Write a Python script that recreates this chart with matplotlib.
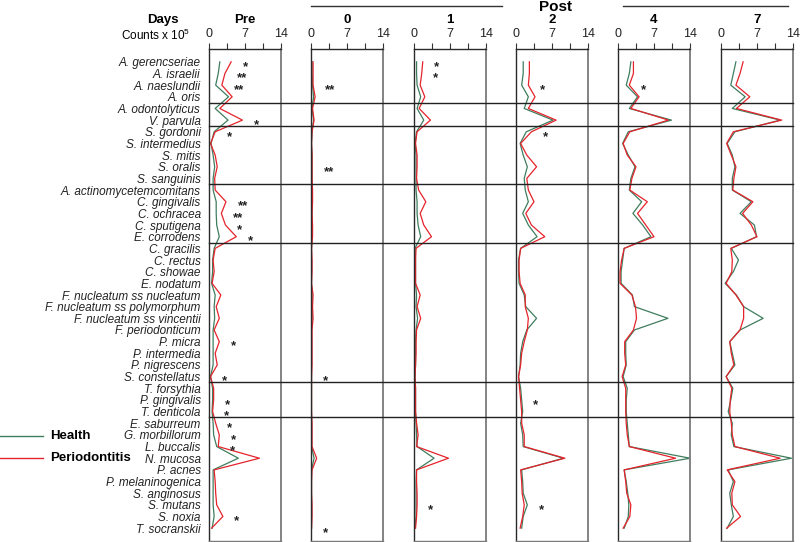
import matplotlib
matplotlib.use("Agg")
import matplotlib.pyplot as plt
import numpy as np
from matplotlib.lines import Line2D
from matplotlib.transforms import blended_transform_factory

plt.rcParams["font.family"] = ["Liberation Sans", "DejaVu Sans"]
plt.rcParams["mathtext.fontset"] = "custom"
plt.rcParams["mathtext.rm"] = "Liberation Sans"

species = [
    "A. gerencseriae", "A. israelii", "A. naeslundii", "A. oris",
    "A. odontolyticus", "V. parvula",
    "S. gordonii", "S. intermedius", "S. mitis", "S. oralis", "S. sanguinis",
    "A. actinomycetemcomitans", "C. gingivalis", "C. ochracea", "C. sputigena", "E. corrodens",
    "C. gracilis", "C. rectus", "C. showae", "E. nodatum",
    "F. nucleatum ss nucleatum", "F. nucleatum ss polymorphum", "F. nucleatum ss vincentii",
    "F. periodonticum", "P. micra", "P. intermedia", "P. nigrescens", "S. constellatus",
    "T. forsythia", "P. gingivalis", "T. denticola",
    "E. saburreum", "G. morbillorum", "L. buccalis", "N. mucosa", "P. acnes",
    "P. melaninogenica", "S. anginosus", "S. mutans", "S. noxia", "T. socranskii",
]
group_sizes = [4, 2, 5, 5, 12, 3, 10]
days = ["Pre", "0", "1", "2", "4", "7"]

health = {
    "Pre": [2.1, 1.8, 1.3, 3.8, 1.2, 3.7, 1.0, 0.4, 0.8, 1.1, 0.8, 0.8, 1.4, 1.4, 1.5, 2.0, 1.0, 0.7, 0.7, 0.5,
            1.2, 1.0, 1.1, 0.8, 0.8, 0.8, 0.8, 0.3, 0.7, 0.7, 0.6, 0.8, 0.9, 1.5, 5.7, 0.8, 0.8, 0.8, 0.8, 1.0, 0.6],
    "0": [0.2, 0.2, 0.3, 0.5, 0.2, 0.5, 0.2, 0.1, 0.2, 0.2, 0.2, 0.2, 0.2, 0.2, 0.2, 0.2, 0.1, 0.1, 0.1, 0.1,
          0.2, 0.2, 0.2, 0.1, 0.1, 0.1, 0.1, 0.1, 0.1, 0.1, 0.1, 0.1, 0.1, 0.1, 0.6, 0.1, 0.1, 0.1, 0.1, 0.1, 0.1],
    "1": [0.5, 0.5, 0.6, 1.3, 0.6, 1.9, 0.5, 0.2, 0.4, 0.4, 0.4, 0.4, 0.6, 0.6, 0.8, 1.3, 0.2, 0.3, 0.3, 0.3,
          0.5, 0.4, 0.7, 0.4, 0.3, 0.3, 0.3, 0.2, 0.3, 0.3, 0.3, 0.4, 0.5, 0.6, 3.9, 0.5, 0.4, 0.4, 0.4, 0.4, 0.2],
    "2": [1.4, 1.4, 1.1, 2.4, 1.6, 7.2, 2.0, 0.8, 1.4, 2.2, 1.6, 1.8, 2.4, 1.3, 2.4, 4.1, 0.9, 0.5, 0.5, 0.6,
          1.6, 1.9, 4.0, 2.1, 1.3, 0.9, 0.8, 0.5, 0.9, 1.1, 1.3, 0.9, 1.3, 1.4, 9.2, 1.1, 1.3, 1.4, 2.2, 1.4, 1.1],
    "4": [2.5, 2.2, 1.6, 3.8, 2.2, 10.4, 2.0, 0.9, 2.0, 3.3, 2.5, 2.2, 4.6, 2.9, 4.8, 6.4, 1.2, 0.9, 0.6, 0.6,
          2.8, 3.2, 9.7, 3.2, 1.5, 1.5, 1.6, 1.0, 1.8, 1.6, 1.6, 1.8, 2.0, 2.2, 14.0, 1.2, 1.6, 1.9, 2.1, 2.0, 1.2],
    "7": [2.9, 2.4, 1.9, 4.7, 2.2, 11.5, 2.7, 1.2, 2.2, 2.7, 2.2, 2.2, 5.9, 3.7, 6.5, 6.9, 2.0, 3.4, 2.4, 0.8,
          3.0, 4.4, 8.2, 3.7, 1.7, 2.2, 2.7, 1.0, 2.3, 1.9, 1.4, 2.2, 2.0, 2.5, 13.7, 1.4, 2.4, 1.7, 2.0, 2.4, 1.2],
}
perio = {
    "Pre": [4.3, 3.1, 2.5, 4.5, 2.1, 6.5, 1.2, 0.3, 1.2, 1.6, 1.1, 1.2, 3.3, 2.4, 3.2, 5.3, 1.2, 0.8, 1.0, 0.6,
            2.3, 1.4, 2.0, 1.0, 2.0, 1.2, 1.6, 0.3, 0.9, 0.9, 0.7, 1.3, 2.0, 1.8, 9.8, 1.0, 1.2, 1.3, 1.5, 2.7, 0.5],
    "0": [0.4, 0.4, 0.4, 0.8, 0.3, 0.6, 0.2, 0.1, 0.2, 0.2, 0.2, 0.3, 0.3, 0.2, 0.3, 0.3, 0.1, 0.2, 0.2, 0.1,
          0.4, 0.3, 0.4, 0.2, 0.2, 0.2, 0.2, 0.1, 0.1, 0.1, 0.1, 0.2, 0.2, 0.2, 1.1, 0.2, 0.1, 0.1, 0.2, 0.2, 0.1],
    "1": [1.7, 1.5, 1.2, 2.1, 1.0, 3.2, 0.6, 0.3, 0.6, 0.6, 0.5, 0.9, 2.3, 1.2, 1.9, 3.4, 0.4, 0.3, 0.3, 0.3,
          1.2, 0.6, 1.3, 0.5, 0.4, 0.4, 0.3, 0.2, 0.3, 0.3, 0.3, 0.5, 0.8, 0.5, 6.7, 0.5, 0.5, 0.6, 0.6, 0.5, 0.3],
    "2": [2.6, 2.6, 2.4, 3.7, 2.4, 7.8, 3.0, 0.9, 2.1, 4.0, 2.1, 2.4, 3.5, 1.9, 3.0, 5.6, 0.9, 0.6, 0.6, 0.8,
          1.8, 1.8, 2.4, 2.2, 1.6, 1.1, 0.9, 0.5, 0.7, 0.9, 1.1, 1.1, 1.6, 1.6, 9.5, 0.9, 1.1, 1.2, 1.6, 1.3, 0.8],
    "4": [3.0, 3.0, 2.2, 4.1, 2.5, 9.8, 2.3, 1.0, 1.8, 3.5, 2.7, 2.3, 5.7, 3.8, 5.4, 7.0, 1.2, 0.7, 0.4, 0.4,
          2.7, 3.4, 3.6, 3.0, 1.3, 1.3, 1.5, 0.8, 1.5, 1.5, 1.5, 1.6, 1.8, 2.2, 11.2, 1.2, 1.5, 1.7, 2.5, 2.3, 1.0],
    "7": [4.3, 3.7, 2.9, 5.6, 3.0, 11.8, 2.4, 1.1, 2.0, 2.9, 2.5, 2.3, 6.2, 4.2, 5.9, 7.0, 1.9, 2.2, 2.1, 1.0,
          2.9, 4.4, 4.4, 3.7, 1.7, 2.0, 2.5, 1.0, 2.1, 1.8, 1.7, 2.0, 2.2, 2.7, 11.5, 1.2, 2.7, 2.1, 2.2, 3.8, 1.1],
}
# significance marks: species index -> marker
signif = {
    "Pre": {0: "*", 1: "**", 2: "**", 5: "*", 6: "*", 12: "**", 13: "**", 14: "*", 15: "*", 24: "*",
            27: "*", 29: "*", 30: "*", 31: "*", 32: "*", 33: "*", 39: "*"},
    "0": {2: "**", 9: "**", 27: "*", 40: "*"},
    "1": {0: "*", 1: "*", 38: "*"},
    "2": {2: "*", 6: "*", 29: "*", 38: "*"},
    "4": {2: "*"},
    "7": {},
}

GREEN = "#3f7d5e"
RED = "#e5232b"
W, H = 800, 542
panel_left = [209, 311, 414, 516, 618, 721]
panel_w = 72
top_px, bot_px = 49, 541

fig = plt.figure(figsize=(W / 100, H / 100), dpi=100)
rows = np.arange(len(species))
axes = []
for i, day in enumerate(days):
    ax = fig.add_axes([panel_left[i] / W, 1 - bot_px / H, panel_w / W, (bot_px - top_px) / H])
    axes.append(ax)
    ax.plot(health[day], rows, color=GREEN, lw=0.9)
    ax.plot(perio[day], rows, color=RED, lw=0.9)
    ax.set_xlim(0, 14)
    ax.set_ylim(len(species) - 1 + 1.1, -1.1)
    ax.xaxis.tick_top()
    ax.set_xticks([0, 7, 14])
    ax.set_xticks([3.5, 10.5], minor=True)
    ax.tick_params(axis="x", which="both", direction="out", length=4.3, width=0.8,
                   color="#333333", labelsize=9, pad=2.5, labelcolor="#222222")
    for side in ("top", "left"):
        ax.spines[side].set_color("#2a2a2a")
        ax.spines[side].set_linewidth(1.0)
    ax.spines["right"].set_color("#7a7a7a")
    ax.spines["right"].set_linewidth(1.3)
    ax.spines["bottom"].set_color("#7a7a7a")
    ax.spines["bottom"].set_linewidth(1.0)
    if i == 0:
        ax.set_yticks(rows, labels=species, fontstyle="italic", fontsize=8.5)
        ax.tick_params(axis="y", length=0, pad=6, labelcolor="#222222")
    else:
        ax.set_yticks([])
    for idx, mark in signif[day].items():
        off = 3.3 if mark == "**" else 2.7
        xm = max(health[day][idx], perio[day][idx]) + off
        ax.text(xm, idx + 0.68, mark, ha="center", va="baseline", fontsize=9.5,
                fontweight="bold", color="#222222")
    ax.text(0.5, 1 + 29 / (bot_px - top_px), day, transform=ax.transAxes,
            ha="center", va="center", fontsize=9.5, fontweight="bold")

# group separator lines running across all panels
trans = blended_transform_factory(fig.transFigure, axes[0].transData)
for b in np.cumsum(group_sizes)[:-1] - 0.5:
    fig.add_artist(Line2D([panel_left[0] / W, 793 / W], [b, b], transform=trans,
                          color="#222222", lw=1.0))

# headers
fig.text(163 / W, 1 - 20 / H, "Days", ha="center", va="center", fontsize=9.5, fontweight="bold")
fig.text(190 / W, 1 - 35 / H, r"Counts x 10$^{5}$", ha="right", va="center", fontsize=8.5)
fig.text(555 / W, 1 - 7 / H, "Post", ha="center", va="center", fontsize=11, fontweight="bold")
fig.add_artist(Line2D([311 / W, 502 / W], [1 - 6 / H, 1 - 6 / H], color="#333333", lw=1.0))
fig.add_artist(Line2D([623 / W, 788 / W], [1 - 6 / H, 1 - 6 / H], color="#333333", lw=1.0))

# legend
for y_px, col, lab in [(436, GREEN, "Health"), (458, RED, "Periodontitis")]:
    fig.add_artist(Line2D([0, 43 / W], [1 - y_px / H, 1 - y_px / H], color=col, lw=1.0))
    fig.text(50 / W, 1 - y_px / H, lab, ha="left", va="center", fontsize=9.5, fontweight="bold")

fig.savefig("out.png", dpi=100)
